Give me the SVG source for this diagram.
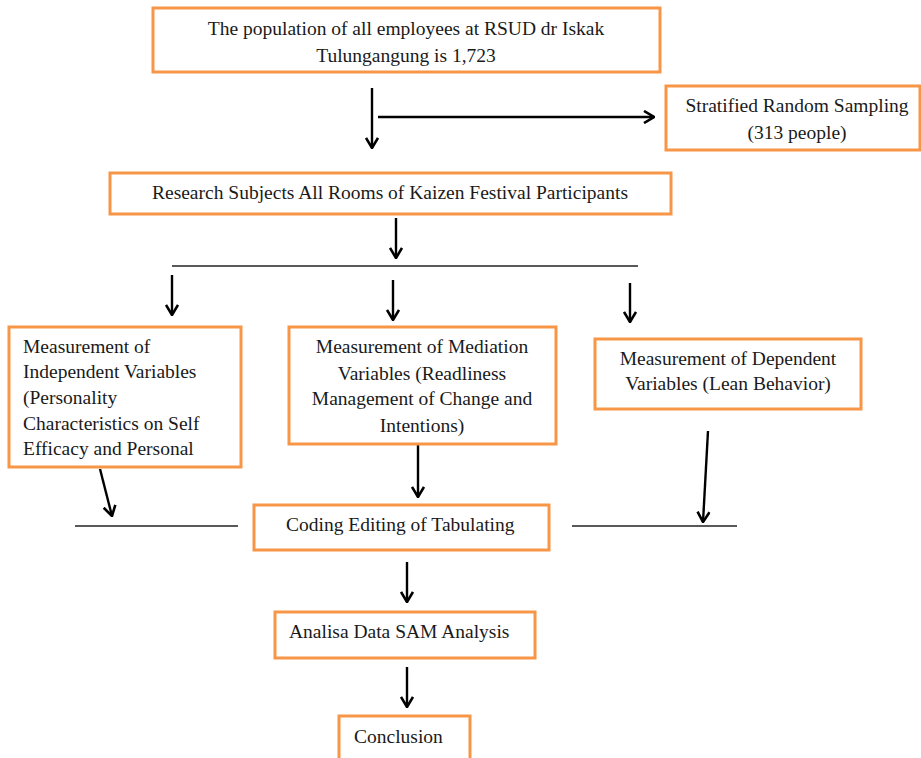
<svg xmlns="http://www.w3.org/2000/svg" width="921" height="758" viewBox="0 0 921 758">
<defs>
<style>
.box{fill:#fff;stroke:#F79646;stroke-width:3}
.t{font-family:"Liberation Serif","Times New Roman",serif;font-size:19.5px;fill:#1a1a1a}
.c{text-anchor:middle}
.ar{stroke:#000;stroke-width:2.4;fill:none;marker-end:url(#ah)}
.ln{stroke:#222;stroke-width:1.3;fill:none}
</style>
<marker id="ah" viewBox="0 0 12 14" refX="11" refY="7" markerWidth="12" markerHeight="14" markerUnits="userSpaceOnUse" orient="auto">
<path d="M1,1 L11,7 L1,13" stroke="#000" stroke-width="2.6" fill="none"/>
</marker>
</defs>
<rect width="921" height="758" fill="#fff"/>
<g id="connectors">
<line class="ar" x1="372" y1="88" x2="372" y2="148"/>
<line class="ar" x1="378" y1="117" x2="654" y2="117"/>
<line class="ar" x1="396" y1="218" x2="396" y2="258"/>
<line class="ln" x1="172" y1="266" x2="638" y2="266"/>
<line class="ar" x1="172" y1="275" x2="172" y2="315"/>
<line class="ar" x1="393" y1="280" x2="393" y2="320"/>
<line class="ar" x1="630" y1="283" x2="630" y2="322"/>
<line class="ar" x1="100" y1="469" x2="112" y2="516"/>
<line class="ar" x1="418" y1="445" x2="418" y2="497"/>
<line class="ar" x1="708" y1="431" x2="703" y2="522"/>
<line class="ln" x1="75" y1="526" x2="238" y2="526"/>
<line class="ln" x1="572" y1="526" x2="737" y2="526"/>
<line class="ar" x1="407" y1="562" x2="407" y2="602"/>
<line class="ar" x1="407" y1="667" x2="407" y2="707"/>
</g>
<g id="population">
<rect class="box" x="153" y="8" width="507" height="64"/>
<text class="t c" x="406" y="35">The population of all employees at RSUD dr Iskak</text>
<text class="t c" x="406" y="62">Tulungangung is 1,723</text>
</g>
<g id="sampling">
<rect class="box" x="666" y="86" width="254" height="64"/>
<text class="t c" x="797" y="112">Stratified Random Sampling</text>
<text class="t c" x="797" y="139">(313 people)</text>
</g>
<g id="subjects">
<rect class="box" x="110" y="173" width="561" height="41"/>
<text class="t c" x="390" y="199">Research Subjects All Rooms of Kaizen Festival Participants</text>
</g>
<g id="independent">
<rect class="box" x="9" y="327" width="232" height="140"/>
<text class="t" x="23" y="353">Measurement of</text>
<text class="t" x="23" y="378">Independent Variables</text>
<text class="t" x="23" y="404">(Personality</text>
<text class="t" x="23" y="430">Characteristics on Self</text>
<text class="t" x="23" y="455">Efficacy and Personal</text>
</g>
<g id="mediation">
<rect class="box" x="289" y="327" width="267" height="117"/>
<text class="t c" x="422" y="353">Measurement of Mediation</text>
<text class="t c" x="422" y="380">Variables (Readliness</text>
<text class="t c" x="422" y="405">Management of Change and</text>
<text class="t c" x="422" y="432">Intentions)</text>
</g>
<g id="dependent">
<rect class="box" x="595" y="339" width="266" height="70"/>
<text class="t c" x="728" y="365">Measurement of Dependent</text>
<text class="t c" x="728" y="390">Variables (Lean Behavior)</text>
</g>
<g id="coding">
<rect class="box" x="254" y="505" width="295" height="45"/>
<text class="t" x="286" y="531">Coding Editing of Tabulating</text>
</g>
<g id="analisa">
<rect class="box" x="275" y="612" width="260" height="46"/>
<text class="t" x="289" y="638">Analisa Data SAM Analysis</text>
</g>
<g id="conclusion">
<rect class="box" x="339" y="716" width="131" height="44"/>
<text class="t" x="354" y="743">Conclusion</text>
</g>
</svg>
